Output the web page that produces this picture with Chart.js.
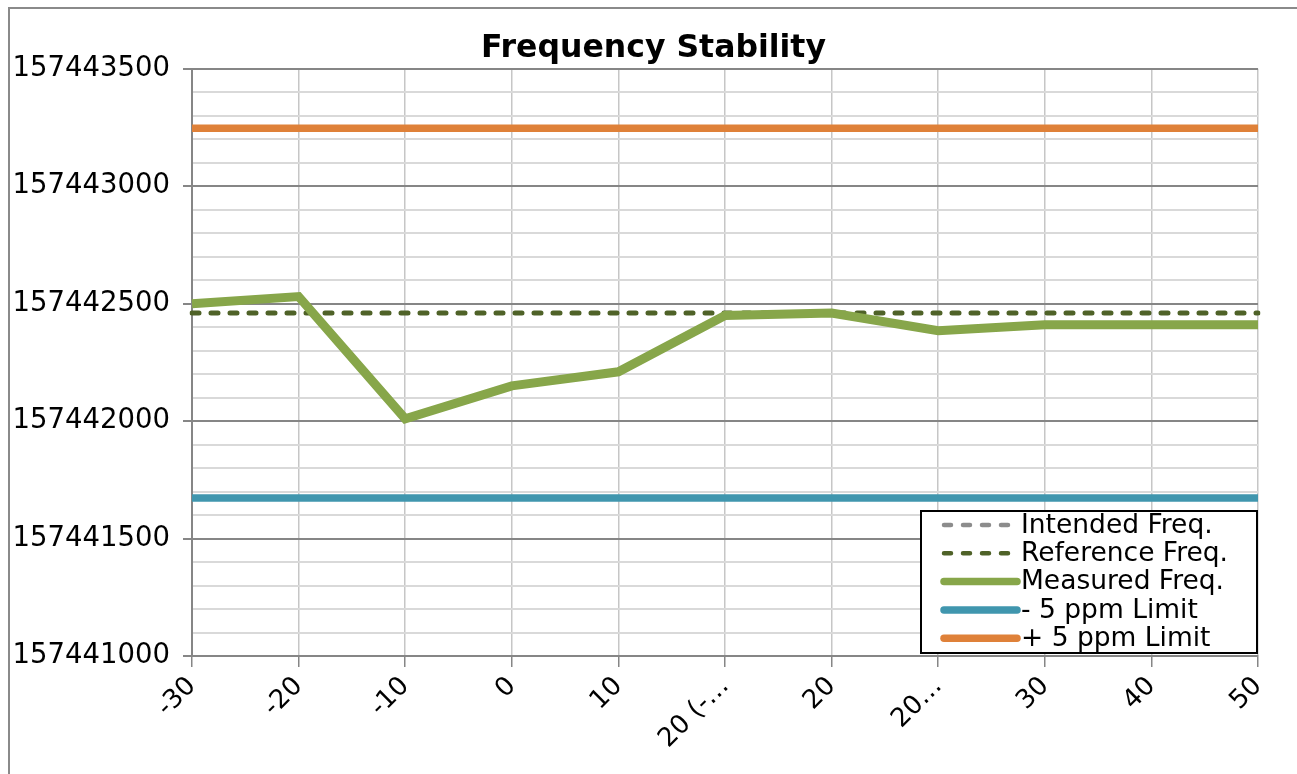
<!DOCTYPE html>
<html>
<head>
<meta charset="utf-8">
<script src="https://cdn.jsdelivr.net/npm/chart.js@4/dist/chart.umd.min.js"></script>
<style>
  html, body { margin: 0; padding: 0; background: #fff; overflow: hidden; }
  #frame {
    position: absolute; left: 8px; top: 7px; width: 1300px; height: 780px;
    border-top: 2px solid #8a8a8a; border-left: 2px solid #8a8a8a;
  }
  #chartFreq { position: absolute; left: 10px; top: 9px; }
</style>
</head>
<body>
<div id="frame"></div>
<canvas id="chartFreq" width="1287" height="765"></canvas>
<script>
// temperatures (deg C) as shown on the x axis
const suhu = ["-30", "-20", "-10", "0", "10", "20 (-\u2026", "20", "20\u2026", "30", "40", "50"];

const intendedFreq  = [157442460, 157442460, 157442460, 157442460, 157442460, 157442460, 157442460, 157442460, 157442460, 157442460, 157442460];
const referenceFreq = [157442460, 157442460, 157442460, 157442460, 157442460, 157442460, 157442460, 157442460, 157442460, 157442460, 157442460];
const measuredFreq  = [157442500, 157442530, 157442010, 157442150, 157442210, 157442450, 157442460, 157442385, 157442410, 157442410, 157442410];
const limitMinus    = [157441673, 157441673, 157441673, 157441673, 157441673, 157441673, 157441673, 157441673, 157441673, 157441673, 157441673];
const limitPlus     = [157443247, 157443247, 157443247, 157443247, 157443247, 157443247, 157443247, 157443247, 157443247, 157443247, 157443247];

const yMin = 157441000;
const yMax = 157443500;
const yMinor = 100;  // minor grid step
const yMajor = 500;  // labelled step

// legend drawn inside the plot, bottom right, like the excel one
const legendBox = {
  id: "legendBox",
  afterDraw(chart) {
    const { ctx, chartArea } = chart;
    const w = 336, h = 142;
    const x = chartArea.right - w - 1;
    const y = chartArea.bottom - h - 3;
    ctx.save();
    ctx.fillStyle = "#ffffff";
    ctx.fillRect(x, y, w, h);
    ctx.strokeStyle = "#000000";
    ctx.lineWidth = 2;
    ctx.strokeRect(x, y, w, h);
    ctx.font = '26.5px "DejaVu Sans"';
    ctx.textBaseline = "middle";
    chart.data.datasets.forEach((ds, i) => {
      const cy = y + 14 + i * 28.3;
      ctx.beginPath();
      ctx.setLineDash(ds.borderDash || []);
      ctx.lineCap = "round";
      ctx.strokeStyle = ds.borderColor;
      ctx.lineWidth = ds.borderDash ? 4.5 : 7.5;
      ctx.moveTo(x + 23, cy);
      ctx.lineTo(x + 96, cy);
      ctx.stroke();
      ctx.setLineDash([]);
      ctx.fillStyle = "#000000";
      ctx.fillText(ds.label, x + 100, cy + 1);
    });
    ctx.restore();
  },
};

const ctx = document.getElementById("chartFreq").getContext("2d");

new Chart(ctx, {
  type: "line",
  data: {
    labels: suhu,
    datasets: [
      {
        label: "Intended Freq.",
        data: intendedFreq,
        borderColor: "#8c8c8c",
        borderWidth: 4,
        borderDash: [7, 12],
        borderCapStyle: "round",
        order: 5,
      },
      {
        label: "Reference Freq.",
        data: referenceFreq,
        borderColor: "#4f6228",
        borderWidth: 5,
        borderDash: [7, 12],
        borderCapStyle: "round",
        order: 4,
      },
      {
        label: "Measured Freq.",
        data: measuredFreq,
        borderColor: "#87a64a",
        borderWidth: 9,
        order: 3,
      },
      {
        label: "- 5 ppm Limit",
        data: limitMinus,
        borderColor: "#4096ae",
        borderWidth: 7.5,
        order: 2,
      },
      {
        label: "+ 5 ppm Limit",
        data: limitPlus,
        borderColor: "#df8139",
        borderWidth: 7.5,
        order: 1,
      },
    ],
  },
  options: {
    responsive: false,
    animation: false,
    elements: { point: { radius: 0 }, line: { tension: 0 } },
    layout: { padding: 0 },
    plugins: {
      legend: { display: false },
      tooltip: { enabled: false },
      title: {
        display: true,
        text: "Frequency Stability",
        color: "#000000",
        font: { family: "DejaVu Sans", size: 31.5, weight: "bold", lineHeight: 1.2 },
        padding: { top: 21, bottom: 1 },
      },
    },
    scales: {
      x: {
        offset: false,
        afterFit: (scale) => { scale.height = 118; },
        grid: {
          color: "#c6c6c6",
          lineWidth: 1.5,
          tickLength: 11,
          tickColor: "#868686",
        },
        border: { color: "#868686", width: 2 },
        ticks: {
          autoSkip: false,
          maxRotation: 45,
          minRotation: 45,
          padding: 4,
          color: "#000000",
          font: { family: "DejaVu Sans", size: 26 },
        },
      },
      y: {
        min: yMin,
        max: yMax,
        afterFit: (scale) => { scale.width = 182; },
        // every 100 Hz a (minor) grid line, label only every 500
        afterBuildTicks: (scale) => {
          const t = [];
          for (let v = yMin; v <= yMax; v += yMinor) t.push({ value: v });
          scale.ticks = t;
        },
        grid: {
          color: (c) => (c.tick && c.tick.value % yMajor === 0 ? "#868686" : "#d9d9d9"),
          tickColor: (c) => (c.tick && c.tick.value % yMajor === 0 ? "#868686" : "rgba(0,0,0,0)"),
          lineWidth: 2,
          tickLength: 9,
        },
        border: { color: "#868686", width: 2 },
        ticks: {
          autoSkip: false,
          padding: 13,
          color: "#000000",
          font: { family: "DejaVu Sans", size: 27.5 },
          callback: (v) => (v % yMajor === 0 ? String(v) : ""),
        },
      },
      // empty right side space so the title stays centred on the whole frame
      kanan: {
        position: "right",
        display: true,
        afterFit: (scale) => { scale.width = 39; },
        grid: { display: false },
        border: { display: false },
        ticks: { display: false },
      },
    },
  },
  plugins: [legendBox],
});
</script>
</body>
</html>
